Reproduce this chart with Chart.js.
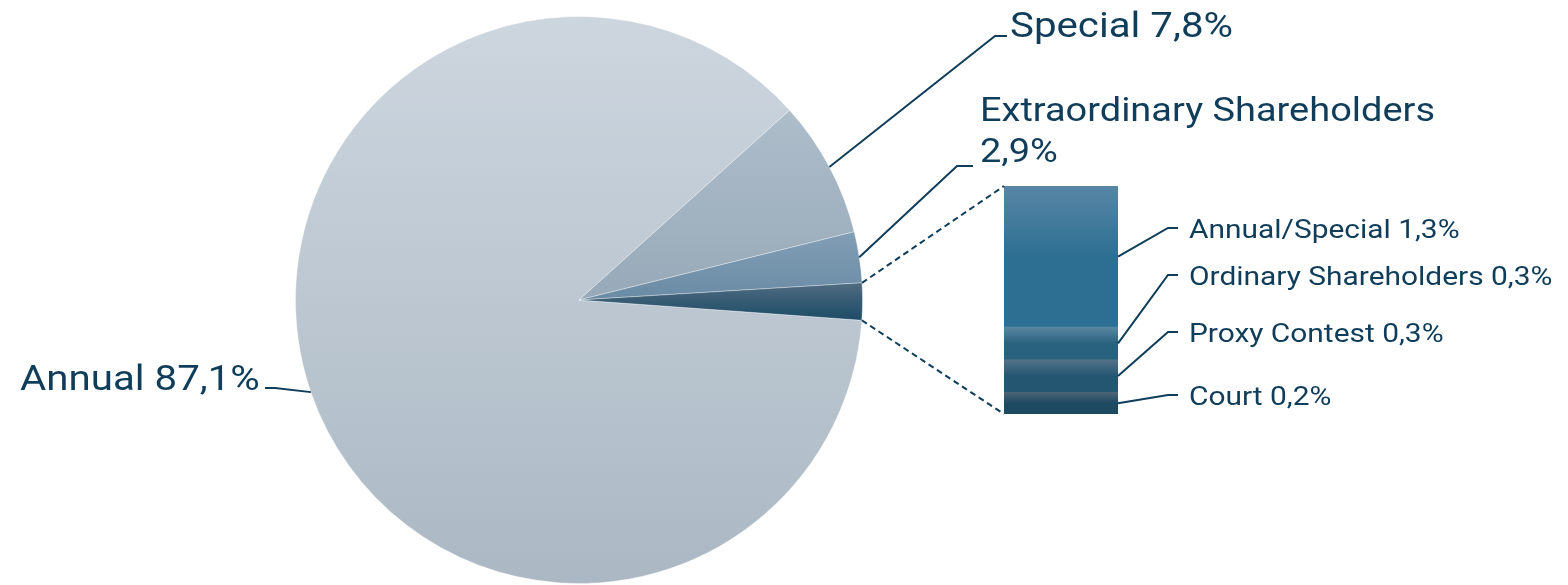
<!DOCTYPE html>
<html>
<head>
<meta charset="utf-8">
<script src="https://cdn.jsdelivr.net/npm/chart.js@4/dist/chart.umd.min.js"></script>
<style>
  html, body { margin: 0; padding: 0; background: #ffffff; }
  #wrap { position: relative; width: 1568px; height: 585px; }
  #wrap canvas { position: absolute; left: 0; top: 0; }
</style>
</head>
<body>
<div id="wrap">
  <canvas id="pieCanvas" width="1568" height="585"></canvas>
  <canvas id="barCanvas" width="1568" height="585"></canvas>
</div>
<script>
// pie slices (the last one is broken out into the bar)
var pieLabels = ['Annual', 'Special', 'Extraordinary Shareholders', 'Other'];
var pieValues = [87.1, 7.8, 2.9, 2.1];
var pieTopColors = ['#cdd6df', '#aebdca', '#819eb5', '#506c81'];
var pieBottomColors = ['#abb8c3', '#97a9b8', '#6a8ba5', '#1c4b66'];

// bar breakdown of "Other", listed top to bottom
var barLabels = ['Annual/Special', 'Ordinary Shareholders', 'Proxy Contest', 'Court'];
var barValues = [1.3, 0.3, 0.3, 0.2];
var barTopColors = ['#5886a5', '#5a87a2', '#53738a', '#4e6477'];
var barBottomColors = ['#2d6f92', '#29627f', '#245672', '#1d4961'];

var textColor = '#0f3d5a';
var textStretch = 1.15;
var pieRotation = 94.1;

function fmt(v) {
    return v.toFixed(1).replace('.', ',') + '%';
}

function sum(arr) {
    return arr.reduce(function(a, b) { return a + b; }, 0);
}

function pieGradient(context) {
    var chart = context.chart;
    var i = context.dataIndex;
    var area = chart.chartArea;
    if (!area) return pieTopColors[i];
    var cx = (area.left + area.right) / 2;
    var cy = (area.top + area.bottom) / 2;
    var r = Math.min(area.right - area.left, area.bottom - area.top) / 2;
    var total = sum(pieValues);
    var start = pieRotation * Math.PI / 180 - Math.PI / 2;
    for (var j = 0; j < i; j++) start += pieValues[j] / total * Math.PI * 2;
    var end = start + pieValues[i] / total * Math.PI * 2;
    var ys = [cy, cy + r * Math.sin(end)];
    for (var t = start; t < end; t += 0.01) ys.push(cy + r * Math.sin(t));
    var g = chart.ctx.createLinearGradient(0, Math.min.apply(null, ys), 0, Math.max.apply(null, ys));
    g.addColorStop(0, pieTopColors[i]);
    g.addColorStop(1, pieBottomColors[i]);
    return g;
}

const ctxPie = document.getElementById('pieCanvas').getContext('2d');
const chartPie = new Chart(ctxPie, {
    type: 'pie',
    data: {
        labels: pieLabels,
        datasets: [{
            data: pieValues,
            backgroundColor: pieGradient,
            borderColor: 'rgba(255,255,255,0.35)',
            borderWidth: 1
        }]
    },
    options: {
        responsive: false,
        animation: false,
        rotation: pieRotation,
        layout: { padding: { left: 295, right: 705, top: 16, bottom: 1 } },
        plugins: { legend: { display: false }, tooltip: { enabled: false } }
    }
});

// bar datasets go bottom-up, so build them from the end of the list
var barDatasets = [];
for (var k = barValues.length - 1; k >= 0; k--) {
    (function(idx) {
        barDatasets.push({
            label: barLabels[idx],
            data: [barValues[idx]],
            borderWidth: 0,
            categoryPercentage: 1,
            barPercentage: 1,
            backgroundColor: function(context) {
                var chart = context.chart;
                var y = chart.scales && chart.scales.y;
                if (!y || !chart.chartArea) return barTopColors[idx];
                var base = sum(barValues.slice(idx + 1));
                var top = y.getPixelForValue(base + barValues[idx]);
                var bottom = y.getPixelForValue(base);
                var g = chart.ctx.createLinearGradient(0, top, 0, bottom);
                g.addColorStop(0, barTopColors[idx]);
                g.addColorStop(0.5, barBottomColors[idx]);
                g.addColorStop(1, barBottomColors[idx]);
                return g;
            }
        });
    })(k);
}

function line(ctx, pts, dash) {
    ctx.save();
    ctx.strokeStyle = textColor;
    ctx.lineWidth = 2;
    ctx.setLineDash(dash || []);
    ctx.beginPath();
    ctx.moveTo(pts[0][0], pts[0][1]);
    for (var i = 1; i < pts.length; i++) ctx.lineTo(pts[i][0], pts[i][1]);
    ctx.stroke();
    ctx.restore();
}

// the original face is wide and square, so stretch Roboto a little
function text(ctx, str, x, y, size) {
    ctx.save();
    ctx.fillStyle = textColor;
    ctx.font = '400 ' + size + 'px Roboto, "Noto Sans", sans-serif';
    ctx.textBaseline = 'alphabetic';
    ctx.translate(x, y);
    ctx.scale(textStretch, 1);
    ctx.fillText(str, 0, 0);
    ctx.restore();
}

var annotations = {
    id: 'annotations',
    afterDraw: function(chart) {
        var ctx = chart.ctx;
        var arcs = chartPie.getDatasetMeta(0).data;

        function arcPoint(a, angle) {
            var p = a.getProps(['x', 'y', 'outerRadius']);
            return [p.x + p.outerRadius * Math.cos(angle), p.y + p.outerRadius * Math.sin(angle)];
        }
        function midPoint(a) {
            var p = a.getProps(['startAngle', 'endAngle']);
            return arcPoint(a, (p.startAngle + p.endAngle) / 2);
        }

        // pie labels
        var pAnnual = midPoint(arcs[0]);
        line(ctx, [pAnnual, [275, 388], [265, 388]]);
        text(ctx, pieLabels[0] + ' ' + fmt(pieValues[0]), 20, 390, 35);

        var pSpecial = midPoint(arcs[1]);
        line(ctx, [pSpecial, [995, 36], [1007, 36]]);
        text(ctx, pieLabels[1] + ' ' + fmt(pieValues[1]), 1010, 37, 35);

        var pExtra = midPoint(arcs[2]);
        line(ctx, [pExtra, [957, 166], [973, 166]]);
        text(ctx, pieLabels[2], 980, 121, 33);
        text(ctx, fmt(pieValues[2]), 980, 162, 33);

        // dashed connectors from the "Other" slice to the bar
        var other = arcs[3].getProps(['startAngle', 'endAngle']);
        var bars = [];
        chart.data.datasets.forEach(function(ds, di) {
            bars.push(chart.getDatasetMeta(di).data[0]);
        });
        var topBar = bars[bars.length - 1].getProps(['x', 'y', 'base', 'width']);
        var botBar = bars[0].getProps(['x', 'y', 'base', 'width']);
        var left = topBar.x - topBar.width / 2;
        line(ctx, [arcPoint(arcs[3], other.startAngle), [left, topBar.y]], [6, 4]);
        line(ctx, [arcPoint(arcs[3], other.endAngle), [left, botBar.base]], [6, 4]);

        // bar labels
        var labelY = [238, 285, 342, 405];
        for (var i = 0; i < barLabels.length; i++) {
            var el = bars[barLabels.length - 1 - i].getProps(['x', 'y', 'base', 'width']);
            var right = el.x + el.width / 2;
            var mid = (el.y + el.base) / 2;
            var hy = labelY[i] - 10;
            line(ctx, [[right, mid], [1168, hy], [1178, hy]]);
            text(ctx, barLabels[i] + ' ' + fmt(barValues[i]), 1189, labelY[i], 26);
        }
    }
};

const ctxBar = document.getElementById('barCanvas').getContext('2d');
const chartBar = new Chart(ctxBar, {
    type: 'bar',
    data: {
        labels: ['Other'],
        datasets: barDatasets
    },
    options: {
        responsive: false,
        animation: false,
        layout: { padding: { left: 1004, right: 450, top: 186, bottom: 171 } },
        scales: {
            x: { display: false, stacked: true },
            y: { display: false, stacked: true, min: 0, max: sum(barValues) }
        },
        plugins: { legend: { display: false }, tooltip: { enabled: false } }
    },
    plugins: [annotations]
});
</script>
</body>
</html>
